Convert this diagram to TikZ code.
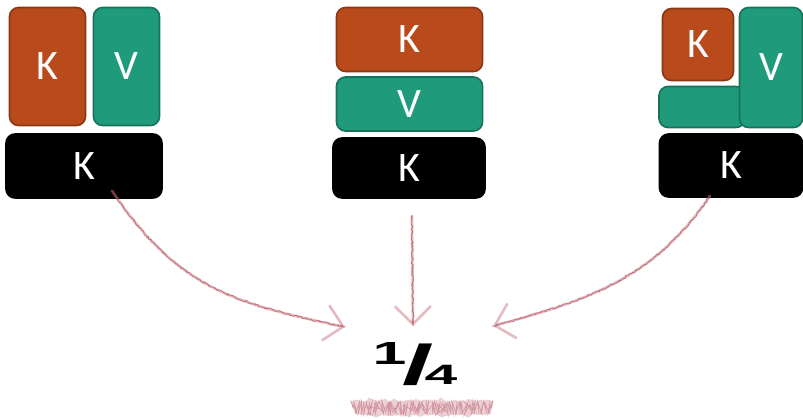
\documentclass[tikz,border=0pt]{standalone}
\usepackage{fontspec}
\usepackage{graphicx}
\setsansfont{Carlito}
\newfontfamily\fracfont{Liberation Sans}
\usetikzlibrary{arrows.meta, decorations.pathmorphing}

\definecolor{orangeK}{RGB}{185,74,27}
\definecolor{orangeKb}{RGB}{139,55,19}
\definecolor{vertV}{RGB}{31,155,123}
\definecolor{vertVb}{RGB}{22,114,90}
\definecolor{crayonc}{RGB}{200,120,130}
\definecolor{crayonf}{RGB}{165,50,65}

\tikzset{
  bloc/.style={rounded corners=9pt, line width=1.6pt, text=white, inner sep=0pt,
    font=\sffamily\fontsize{42}{42}\selectfont},
  cle/.style={bloc, fill=orangeK, draw=orangeKb},
  val/.style={bloc, fill=vertV, draw=vertVb},
  socle/.style={bloc, fill=black, draw=black},
  crayon/.style={draw=crayonc, line width=2.6pt, draw opacity=0.5, line cap=round, line join=round,
    -{Straight Barb[length=18pt,width=36pt]},
    postaction={draw=crayonf, draw opacity=0.55, line width=0.8pt, -, decorate,
      decoration={random steps, segment length=1.5pt, amplitude=1.1pt}}},
  gribouillis/.style={draw=crayonc, line width=14pt, draw opacity=0.35, decorate,
    decoration={random steps, segment length=3pt, amplitude=1.5pt},
    postaction={draw=crayonf, draw opacity=0.35, line width=0.7pt, decorate,
      decoration={zigzag, segment length=2.5pt, amplitude=6pt}}}
}

\begin{document}
\begin{tikzpicture}[x=1pt, y=-1pt]
		\useasboundingbox (0,0) rectangle (803,418);
		%Blocs de gauche
		\node[cle, minimum width=76pt, minimum height=118pt] (K1) at (47.5,66.5) {K};
		\node[val, minimum width=66pt, minimum height=118pt] (V1) at (126.5,66.5) {V};
		\node[socle, minimum width=156pt, minimum height=64pt] (B1) at (84,166) {K};
		%Blocs du milieu
		\node[cle, minimum width=146pt, minimum height=64pt] (K2) at (409.5,39.5) {K};
		\node[val, minimum width=146pt, minimum height=54pt] (V2) at (409.5,104) {V};
		\node[socle, minimum width=152pt, minimum height=60pt] (B2) at (409,168) {K};
		%Blocs de droite
		\node[cle, minimum width=71pt, minimum height=72pt] (K3) at (698,44.5) {K};
		\node[val, minimum width=86pt, minimum height=41pt] (H3) at (702,107) {};
		\node[val, minimum width=63pt, minimum height=120pt] (V3) at (771,67.5) {V};
		\node[socle, minimum width=143pt, minimum height=63pt] (B3) at (731,165.5) {K};
		%Fraction
		\node[inner sep=0pt] (Q) at (415,364) {\fracfont\bfseries
			{\fontsize{32}{32}\selectfont\raisebox{20pt}{\scalebox{1.9}[1]{1}}}%
			\kern-4pt{\fontsize{56}{56}\selectfont\scalebox{2}[1]{/}}%
			\kern-9pt{\fontsize{28}{28}\selectfont\scalebox{2.1}[1]{4}}};
		%Fleches
		\draw[crayon] ([shift={(28,-8)}]B1.south) to[out=-56, in=168, looseness=1.1] ([shift={(-70,-37)}]Q.center);
		\draw[crayon] ([shift={(3,17)}]B2.south) -- ([shift={(-2,-38)}]Q.center);
		\draw[crayon] ([shift={(-21,-2)}]B3.south) to[out=-124, in=15] ([shift={(78,-38)}]Q.center);
		%Soulignement
		\draw[gribouillis] (353,408) -- (492,408);
	\end{tikzpicture}
\end{document}
